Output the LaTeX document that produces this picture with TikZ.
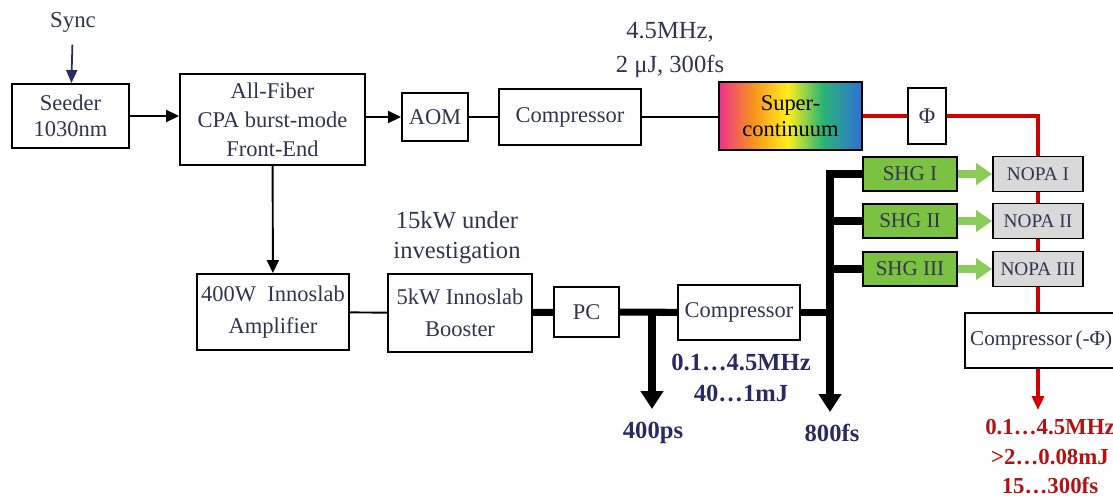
\documentclass[tikz,border=0pt]{standalone}
\usepackage{fontspec}
\setmainfont{Liberation Serif}
\usepackage{tikz}
\usetikzlibrary{arrows.meta,positioning,calc}
\definecolor{ink}{HTML}{33334F}
\definecolor{navy}{HTML}{2A2A62}
\definecolor{laser}{HTML}{D40000}
\definecolor{redtext}{HTML}{B41212}
\definecolor{shgfill}{HTML}{7CC242}
\definecolor{pumpgreen}{HTML}{8CCB58}
\definecolor{nopafill}{HTML}{D9D9D9}
\definecolor{rbmag}{HTML}{F0308C}
\definecolor{rborange}{HTML}{F7941D}
\definecolor{rbyellow}{HTML}{FFEF1A}
\definecolor{rbgreen}{HTML}{2BB673}
\definecolor{rbblue}{HTML}{2E6FD8}
\pgfdeclarehorizontalshading{rainbow}{100bp}{color(0bp)=(rbmag); color(25bp)=(rbmag); color(37bp)=(rborange); color(49bp)=(rbyellow); color(61bp)=(rbgreen); color(75bp)=(rbblue); color(100bp)=(rbblue)}
\tikzset{block/.style={draw,line width=1.1pt,fill=white,align=center,text=ink,font=\fontsize{12.8}{16}\selectfont,inner sep=2pt}, shgbox/.style={block,fill=shgfill,font=\fontsize{12}{14}\selectfont,minimum width=1.88cm,minimum height=0.68cm}, nopabox/.style={block,fill=nopafill,font=\fontsize{11}{13}\selectfont,minimum width=1.8cm,minimum height=0.7cm}, note/.style={align=center,text=ink,font=\fontsize{14}{19}\selectfont,inner sep=1pt}, outlbl/.style={align=center,text=navy,font=\fontsize{14}{18}\selectfont\bfseries,inner sep=1pt}, redlbl/.style={align=center,text=redtext,font=\fontsize{13}{16.8}\selectfont\bfseries,inner sep=1pt}, link/.style={line width=1.1pt}, flow/.style={-{Triangle[length=0.26cm,width=0.24cm]},line width=1.1pt}, syncflow/.style={-{Triangle[length=0.26cm,width=0.22cm]},line width=1pt,draw=navy}, bus/.style={line width=4pt}, busflow/.style={-{Triangle[length=0.36cm,width=0.44cm]},line width=4pt}, beam/.style={line width=2pt,draw=laser}, beamflow/.style={-{Triangle[length=0.28cm,width=0.24cm]},line width=2pt,draw=laser}, pump/.style={-{Triangle[length=0.32cm,width=0.42cm]},line width=4.2pt,draw=pumpgreen}}

\begin{document}
\begin{tikzpicture}[x=0.02cm,y=-0.02cm]
\useasboundingbox (0,0) rectangle (1113,504);
\clip (0,0) rectangle (1113,504);
\node[note,font=\fontsize{13}{16}\selectfont] (sync) at (73,22) {Sync};
\node[block,minimum width=2.34cm,minimum height=1.28cm,font=\fontsize{12.8}{14.8}\selectfont] (seeder) at (70.5,116) {Seeder\\1030nm};
\node[block,minimum width=3.7cm,minimum height=1.82cm,font=\fontsize{12.8}{16.4}\selectfont] (front) at (272.5,119.5) {All-Fiber\\CPA burst-mode\\Front-End};
\node[block,minimum width=1.32cm,minimum height=0.96cm] (aom) at (435,117) {AOM};
\node[block,minimum width=2.84cm,minimum height=1.12cm] (comp1) at (570,117) {Compressor};
\node[block,shading=rainbow,minimum width=2.86cm,minimum height=1.36cm,text=black,font=\fontsize{12.8}{14.5}\selectfont] (sc) at (790.5,116) {Super-\\continuum};
\node[block,minimum width=0.76cm,minimum height=1.12cm] (phi) at (927,116) {Φ};
\node[note] (rep) at (670,50) {4.5MHz,\\2 μJ, 300fs};
\node[shgbox] (shg1) at (910,174) {SHG I};
\node[shgbox] (shg2) at (910,221) {SHG II};
\node[shgbox] (shg3) at (910,269) {SHG III};
\node[nopabox] (nopa1) at (1038,174) {NOPA I};
\node[nopabox] (nopa2) at (1038,221) {NOPA II};
\node[nopabox] (nopa3) at (1038,269) {NOPA III};
\node[block,anchor=west,text width=3.3cm,align=left,inner xsep=3pt,minimum height=1.1cm,font=\fontsize{12}{14}\selectfont] (cmpphi) at (964,340.5) {Compressor\,(-Φ)};
\node[block,minimum width=3.04cm,minimum height=1.52cm,font=\fontsize{12.8}{18.5}\selectfont] (amp) at (273,312) {400W\ \ Innoslab\\Amplifier};
\node[block,minimum width=2.88cm,minimum height=1.56cm,font=\fontsize{12.8}{18.5}\selectfont] (boost) at (460,313) {5kW Innoslab\\Booster};
\node[note,font=\fontsize{14}{17}\selectfont] (upgrade) at (457,238) {15kW under\\investigation};
\node[block,minimum width=1.3cm,minimum height=1cm] (pc) at (586.5,312) {PC};
\node[block,minimum width=2.44cm,minimum height=1.1cm] (comp2) at (739,312.5) {Compressor};
\node[outlbl] (fsout) at (741,378) {0.1…4.5MHz\\40…1mJ};
\node[outlbl] (ps) at (653,433) {400ps};
\node[outlbl] (fs) at (832,433) {800fs};
\node[redlbl] (result) at (1050,457) {0.1…4.5MHz\\>2…0.08mJ\\15…300fs};
\coordinate (j400) at (652,312);
\coordinate (out400) at (652,409);
\coordinate (out800) at (830,412);
\coordinate (outred) at (1038,410);
\draw[syncflow,shorten <=6pt] (sync) -- (seeder);
\draw[flow] (seeder.east) -- (seeder.east -| front.west);
\draw[flow] (front.east |- aom.west) -- (aom.west);
\draw[flow] (front) -- (amp);
\draw[link] (aom) -- (comp1);
\draw[link] (comp1) -- (comp1 -| sc.west);
\draw[beam] (sc) -- (phi);
\draw[beam] (phi.east) -| (nopa1.north);
\draw[beam] (nopa1) -- (nopa2);
\draw[beam] (nopa2) -- (nopa3);
\draw[beam] (nopa3.south) -- (nopa3.south |- cmpphi.north);
\draw[beamflow] (nopa3.south |- cmpphi.south) -- (outred);
\draw[pump] (shg1) -- (nopa1);
\draw[pump] (shg2) -- (nopa2);
\draw[pump] (shg3) -- (nopa3);
\draw[link] (amp) -- (boost);
\draw[bus] (boost) -- (pc);
\draw[bus] (pc) -- (comp2);
\draw[busflow] (j400) -- (out400);
\draw[busflow] (shg1.west) -| (out800);
\draw[bus] (shg2.west) -- (shg2.west -| out800);
\draw[bus] (shg3.west) -- (shg3.west -| out800);
\draw[bus] (comp2.east) -- (comp2.east -| out800);
\end{tikzpicture}
\end{document}
